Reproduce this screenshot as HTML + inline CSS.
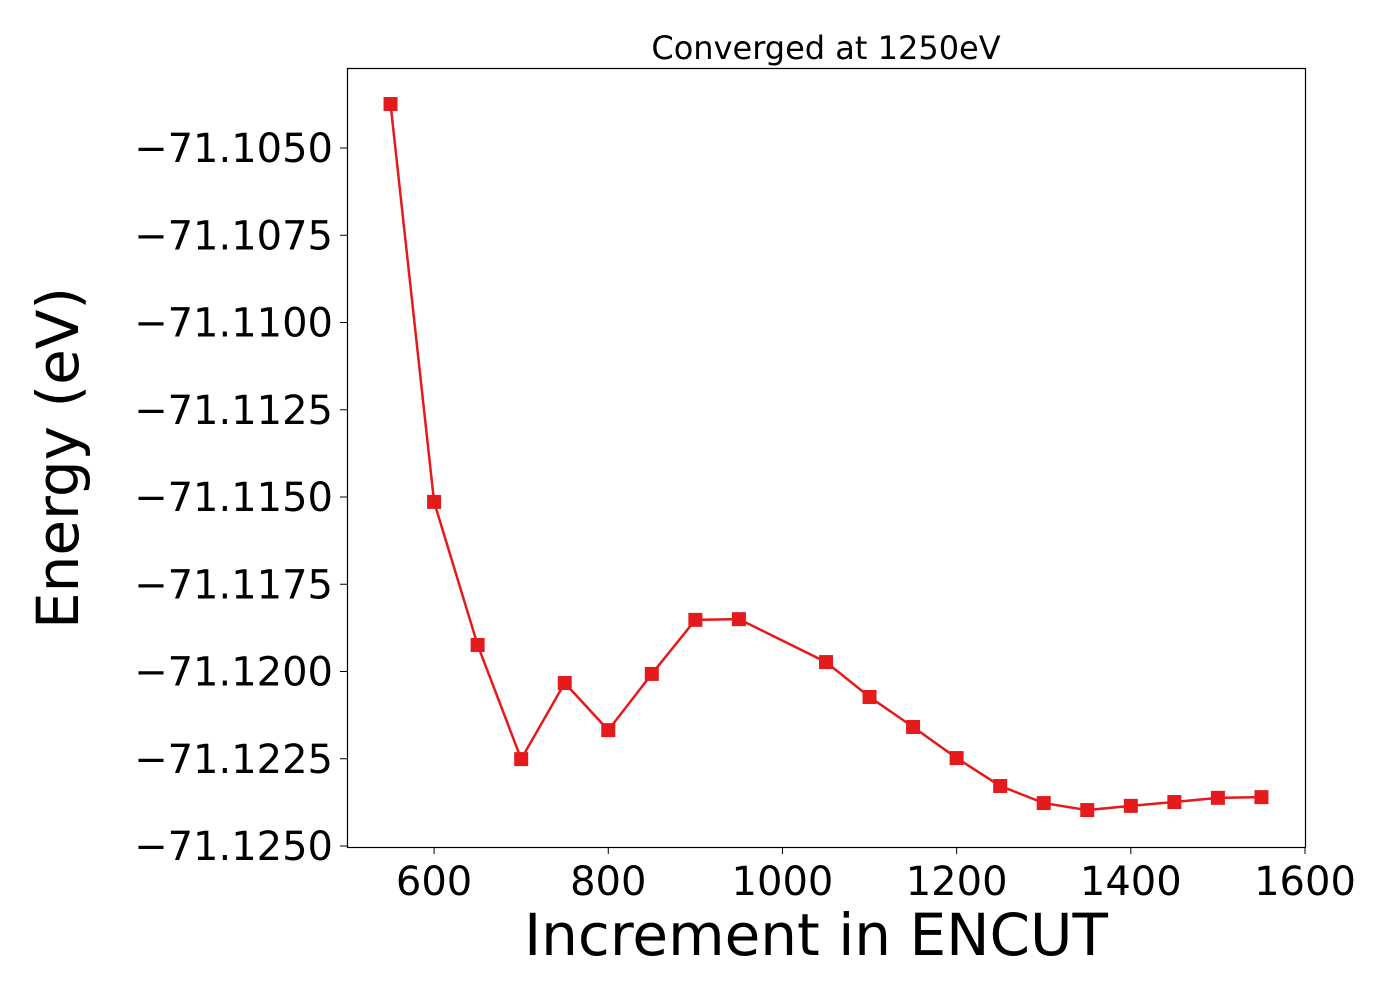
<!DOCTYPE html>
<html><head><meta charset="utf-8"><style>body{margin:0;background:#fff}svg{display:block}text{font-family:"DejaVu Sans","Liberation Sans",sans-serif}</style></head>
<body>
<svg id="chart" width="1400" height="1000">
<rect x="0" y="0" width="1400" height="1000" fill="#fff"/>
<g id="ticks"></g>
<g id="series"></g>
<rect x="347.5" y="68.5" width="958" height="779" fill="none" stroke="#000" stroke-width="1.2"/>
<text x="826" y="59" font-size="32" text-anchor="middle">Converged at 1250eV</text>
<text x="816" y="955" font-size="58" text-anchor="middle">Increment in ENCUT</text>
<text transform="translate(78,458) rotate(-90)" font-size="58" text-anchor="middle">Energy (eV)</text>
</svg>
<script>
const encut=[550,600,650,700,750,800,850,900,950,1050,1100,1150,1200,1250,1300,1350,1400,1450,1500,1550];
const energy=[-71.10374,-71.11514,-71.11924,-71.12251,-71.12033,-71.12168,-71.12007,-71.11852,-71.11850,-71.11973,-71.12073,-71.12159,-71.12248,-71.12328,-71.12377,-71.12397,-71.12385,-71.12374,-71.12362,-71.12360];
const xTicks=[600,800,1000,1200,1400,1600];
const yTicks=[-71.1050,-71.1075,-71.1100,-71.1125,-71.1150,-71.1175,-71.1200,-71.1225,-71.1250];
const NS='http://www.w3.org/2000/svg';
function xs(v){return 347+(v-500)*(958/1100);}
function ys(v){return 148+(-71.1050-v)*(698/0.0200);}
const tg=document.getElementById('ticks'),sg=document.getElementById('series');
xTicks.forEach(t=>{
 const l=document.createElementNS(NS,'line');
 
 
 l.setAttribute('x1',xs(t));l.setAttribute('x2',xs(t));l.setAttribute('y1',847);l.setAttribute('y2',854);l.setAttribute('stroke','#000');tg.appendChild(l);
 const tx=document.createElementNS(NS,'text');
 
 
 tx.setAttribute('x',xs(t));tx.setAttribute('y',895);tx.setAttribute('font-size','40');tx.setAttribute('text-anchor','middle');tx.textContent=t;tg.appendChild(tx);
});
yTicks.forEach(t=>{
 const l=document.createElementNS(NS,'line');
 
 
 l.setAttribute('x1',340);l.setAttribute('x2',347);l.setAttribute('y1',ys(t));l.setAttribute('y2',ys(t));l.setAttribute('stroke','#000');tg.appendChild(l);
 const tx=document.createElementNS(NS,'text');
 
 
 tx.setAttribute('x',333);tx.setAttribute('y',ys(t)+14);tx.setAttribute('font-size','40');tx.setAttribute('text-anchor','end');tx.textContent='\u2212'+Math.abs(t).toFixed(4);tg.appendChild(tx);
});
const pl=document.createElementNS(NS,'polyline');


pl.setAttribute('points',encut.map((e,i)=>xs(e)+','+ys(energy[i])).join(' '));
pl.setAttribute('fill','none');pl.setAttribute('stroke','#e41a1c');pl.setAttribute('stroke-width','2.5');sg.appendChild(pl);
encut.forEach((e,i)=>{
 const r=document.createElementNS(NS,'rect');
 
 
 r.setAttribute('x',xs(e)-7);r.setAttribute('y',ys(energy[i])-7);r.setAttribute('width',14);r.setAttribute('height',14);r.setAttribute('fill','#e41a1c');sg.appendChild(r);
});
</script>
</body></html>
